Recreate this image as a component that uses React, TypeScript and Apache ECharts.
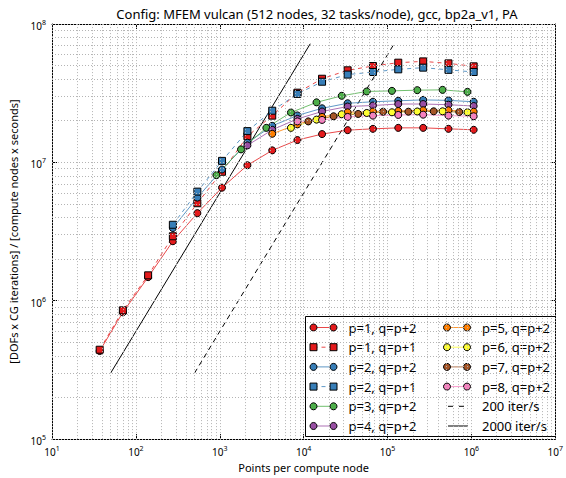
import React, { useEffect, useRef } from "react";
import * as echarts from "echarts";

const FONT = '"Noto Sans", sans-serif';
const titleText = "Config: MFEM vulcan (512 nodes, 32 tasks/node), gcc, bp2a_v1, PA";
const xAxisName = "Points per compute node";
const yAxisName = "[DOFs x CG iterations] / [compute nodes x seconds]";

// x values (points per compute node) for the three mesh families
const xGridA = [37, 70, 140, 276, 541, 1064, 2136, 4222, 8434, 16580, 33460, 67050, 134300, 266000, 532700, 1064000];
const xGridB = [912, 1793, 3592, 7056, 14250, 28460, 56540, 112900, 226200, 453200, 898000];
const xGridC = [11360, 22740, 44690, 88560, 177400, 355200, 717200];

// throughput values
const yP1q3 = [433200, 824400, 1481000, 2692000, 4295000, 6565000, 9532000, 12210000, 14500000, 16010000, 17100000, 17470000, 17760000, 17760000, 17470000, 17190000];
const yP1q2 = [442500, 852100, 1526000, 2924000, 5067000, 8551000, 15440000, 21760000, 31900000, 40210000, 46270000, 49680000, 52540000, 53670000, 51930000, 49430000];
const yP2q4 = [3353000, 5566000, 8880000, 13870000, 18350000, 21830000, 24590000, 26740000, 27420000, 27870000, 28290000, 28050000, 27420000];
const yP2q3 = [3541000, 6145000, 10250000, 16820000, 23630000, 31230000, 38260000, 43090000, 44980000, 47030000, 48370000, 46640000, 44980000];
const yP3 = [8082000, 12410000, 17760000, 22940000, 27150000, 30270000, 32540000, 32870000, 33250000, 33420000, 32330000];
const yP4 = [13260000, 17190000, 20610000, 23320000, 25330000, 25760000, 26400000, 26400000, 26100000, 25540000];
const yP5 = [16090000, 18820000, 21300000, 23010000, 23320000, 23510000, 23790000, 23790000, 23240000];
const yP6 = [17760000, 20370000, 22270000, 22750000, 23010000, 23320000, 23390000, 23010000];
const yP7 = [19770000, 21540000, 22380000, 23240000, 23240000, 23390000, 23130000];
const yP8 = [19770000, 20270000, 21300000, 21760000, 22020000, 22120000, 21760000, 21540000];

// reference lines (endpoints)
const iter200 = [[500, 300000], [120000, 72000000]];
const iter2000 = [[50, 300000], [12000, 72000000]];

const seriesNames = [
  "p=1, q=p+2", "p=1, q=p+1", "p=2, q=p+2", "p=2, q=p+1", "p=3, q=p+2", "p=4, q=p+2",
  "p=5, q=p+2", "p=6, q=p+2", "p=7, q=p+2", "p=8, q=p+2",
];
const seriesColors = ["#e41a1c", "#e41a1c", "#377eb8", "#377eb8", "#4daf4a", "#984ea3", "#ff7f00", "#ffff33", "#a65628", "#f781bf"];
const seriesSymbols = ["circle", "rect", "circle", "rect", "circle", "circle", "circle", "circle", "circle", "circle"];
const seriesDashed = [false, true, false, true, false, false, false, false, false, false];
const seriesX = [xGridA, xGridA, xGridA.slice(3), xGridA.slice(3), xGridB, xGridA.slice(6), xGridA.slice(7), xGridB.slice(3), xGridC, xGridA.slice(8)];
const seriesY = [yP1q3, yP1q2, yP2q4, yP2q3, yP3, yP4, yP5, yP6, yP7, yP8];

const refNames = ["200 iter/s", "2000 iter/s"];

const X_MIN = 10, X_MAX = 1e7, Y_MIN = 1e5, Y_MAX = 1e8;

function gridValues(lo: number, hi: number) {
  const out: number[] = [];
  for (let e = Math.round(Math.log10(lo)); e < Math.round(Math.log10(hi)); e++) {
    for (let m = 1; m <= 9; m++) out.push(m * Math.pow(10, e));
  }
  out.push(hi);
  return out;
}

const supFormatter = (v: number) => `{b|10}{s|${Math.round(Math.log10(v))}}`;
const richLabel = {
  b: { fontSize: 10, fontFamily: FONT, color: "#000", verticalAlign: "bottom", lineHeight: 14 },
  s: { fontSize: 7, fontFamily: FONT, color: "#000", verticalAlign: "bottom", lineHeight: 14, padding: [0, 0, 5, 0] },
};

export default function App() {
  const ref = useRef<HTMLDivElement>(null);
  useEffect(() => {
    if (!ref.current) return;
    const chart = echarts.init(ref.current, undefined, { renderer: "svg" });

    const gridStyle = { color: "#b4b4b4", width: 1, type: [1, 2] as any };
    const markData = [
      ...gridValues(X_MIN, X_MAX).map((v) => ({ xAxis: v })),
      ...gridValues(Y_MIN, Y_MAX).map((v) => ({ yAxis: v })),
    ];

    const dataSeries = seriesNames.map((name, i) => ({
      name,
      type: "line",
      xAxisIndex: 0,
      yAxisIndex: 0,
      data: seriesX[i].map((x, k) => [x, seriesY[i][k]]),
      symbol: seriesSymbols[i],
      symbolSize: 7,
      showSymbol: true,
      itemStyle: { color: seriesColors[i], borderColor: "#000", borderWidth: 1 },
      lineStyle: { color: seriesColors[i], width: 1, opacity: 0.8, type: seriesDashed[i] ? [4, 4] : "solid" },
      emphasis: { disabled: true },
    }));

    const refSeries = [iter200, iter2000].map((d, i) => ({
      name: refNames[i],
      type: "line",
      xAxisIndex: 0,
      yAxisIndex: 0,
      data: d,
      symbol: "none",
      lineStyle: { color: "#000", width: 1, type: i === 0 ? [5, 4] : "solid" },
      emphasis: { disabled: true },
      ...(i === 0
        ? {
            markLine: {
              silent: true,
              symbol: ["none", "none"],
              label: { show: false },
              lineStyle: gridStyle,
              emphasis: { disabled: true },
              animation: false,
              data: markData,
            },
          }
        : {}),
    }));

    // legend drawn with graphic elements
    const LX = 305.5, LY = 316.5, LW = 250, LH = 120;
    const legendEntries = [
      ...seriesNames.map((n, i) => ({ name: n, color: seriesColors[i], symbol: seriesSymbols[i], dashed: seriesDashed[i] })),
      { name: refNames[0], color: "#000", symbol: "none", dashed: true },
      { name: refNames[1], color: "#000", symbol: "none", dashed: false },
    ];
    const legendChildren: any[] = [
      { type: "rect", shape: { x: 0, y: 0, width: LW, height: LH }, style: { fill: "#fff", stroke: "#000", lineWidth: 1 } },
    ];
    legendEntries.forEach((e, idx) => {
      const col = idx < 6 ? 0 : 1;
      const row = idx % 6;
      const x0 = col === 0 ? 8 : 141.5;
      const y0 = 11 + row * 19.7;
      const isRef = e.symbol === "none";
      legendChildren.push({
        type: "line",
        shape: isRef ? { x1: x0 + 1, y1: y0, x2: x0 + 21, y2: y0 } : { x1: x0, y1: y0, x2: x0 + 20, y2: y0 },
        style: { stroke: e.color, lineWidth: 1, opacity: isRef ? 1 : 0.8, lineDash: e.dashed ? (isRef ? [5, 6] : [4, 4]) : null },
      });
      if (!isRef) {
        [x0, x0 + 20].forEach((cx) => {
          if (e.symbol === "rect") {
            legendChildren.push({ type: "rect", shape: { x: cx - 3.5, y: y0 - 3.5, width: 7, height: 7 }, style: { fill: e.color, stroke: "#000", lineWidth: 1 } });
          } else {
            legendChildren.push({ type: "circle", shape: { cx, cy: y0, r: 3.5 }, style: { fill: e.color, stroke: "#000", lineWidth: 1 } });
          }
        });
      }
      legendChildren.push({
        type: "text",
        x: x0 + 35,
        y: y0,
        style: { text: e.name, fontSize: 13, fontFamily: FONT, fill: "#000", verticalAlign: "middle", align: "left" },
      });
    });

    const baseAxis = {
      type: "log",
      logBase: 10,
      axisLine: { show: true, onZero: false, lineStyle: { color: "#000", width: 1 } },
      axisTick: { show: true, inside: true, length: 5, lineStyle: { color: "#000" } },
      splitLine: { show: false },
      minorTick: { show: false },
    };

    chart.setOption({
      animation: false,
      textStyle: { fontFamily: FONT },
      title: {
        text: titleText,
        left: 312,
        top: 2,
        textAlign: "center",
        textStyle: { fontSize: 13, fontWeight: "normal", color: "#000", fontFamily: FONT },
      },
      grid: { left: 49, right: 6, top: 24, bottom: 35, containLabel: false },
      xAxis: [
        {
          ...baseAxis,
          position: "bottom",
          min: X_MIN,
          max: X_MAX,
          splitNumber: 6,
          axisLabel: { formatter: supFormatter, rich: richLabel, margin: 4, color: "#000" },
          name: xAxisName,
          nameLocation: "middle",
          nameGap: 22,
          nameTextStyle: { fontSize: 11, color: "#000", fontFamily: FONT },
        },
        { ...baseAxis, position: "top", min: X_MIN, max: X_MAX, splitNumber: 6, axisLabel: { show: false } },
      ],
      yAxis: [
        {
          ...baseAxis,
          position: "left",
          min: Y_MIN,
          max: Y_MAX,
          splitNumber: 3,
          axisLabel: { formatter: supFormatter, rich: richLabel, margin: 6, color: "#000", align: "right" },
          name: yAxisName,
          nameLocation: "middle",
          nameGap: 33,
          nameRotate: 90,
          nameTextStyle: { fontSize: 11, color: "#000", fontFamily: FONT },
        },
        { ...baseAxis, position: "right", min: Y_MIN, max: Y_MAX, splitNumber: 3, axisLabel: { show: false } },
      ],
      series: [...refSeries, ...dataSeries],
      graphic: [{ type: "group", x: LX, y: LY, z: 100, children: legendChildren }],
    });

    return () => chart.dispose();
  }, []);

  return <div ref={ref} style={{ position: "absolute", left: 0, top: 0, width: 566, height: 478 }} />;
}
